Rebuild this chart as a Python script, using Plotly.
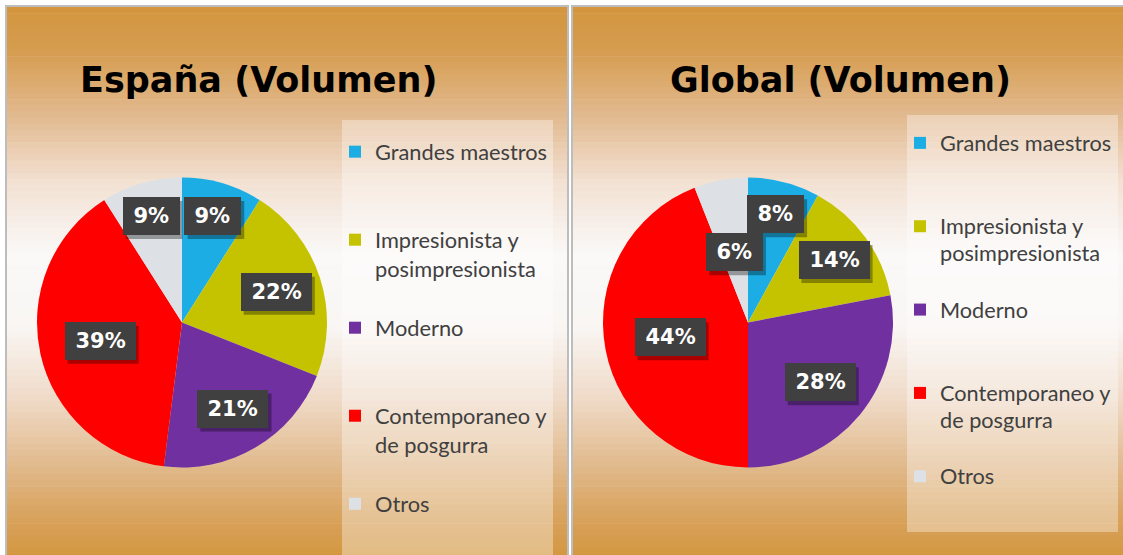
import math
import textwrap
import plotly.graph_objects as go

# ---------------- data ----------------
categories = [
    "Grandes maestros",
    "Impresionista y posimpresionista",
    "Moderno",
    "Contemporaneo y de posgurra",
    "Otros",
]
espana_pct = [9, 22, 21, 39, 9]
global_pct = [8, 14, 28, 44, 6]
titles = ["España (Volumen)", "Global (Volumen)"]

# ---------------- style ----------------
colors = ["#1CADE4", "#C5C300", "#7030A0", "#FF0000", "#DDE1E5"]
W, H = 1123, 555

panels = [
    dict(values=espana_pct, title=titles[0], x0=7, x1=567, cx=182, cy=322.5, R=145,
         title_x=258, legend="legend", label_size=21.8, box=(342, 120, 553, 560)),
    dict(values=global_pct, title=titles[1], x0=573, x1=1123, cx=748, cy=322.5, R=145,
         title_x=840, legend="legend2", label_size=21.7, box=(907, 115, 1118, 532)),
]

grad_stops = [
    (0.00, (211, 149, 62)),
    (0.08, (214, 157, 80)),
    (0.20, (226, 186, 145)),
    (0.32, (243, 226, 212)),
    (0.45, (250, 249, 248)),
    (0.58, (249, 246, 243)),
    (0.70, (240, 220, 203)),
    (0.82, (226, 188, 145)),
    (0.92, (216, 163, 93)),
    (1.00, (211, 150, 63)),
]


def grad_color(t):
    for (t0, c0), (t1, c1) in zip(grad_stops[:-1], grad_stops[1:]):
        if t0 <= t <= t1:
            f = (t - t0) / (t1 - t0) if t1 > t0 else 0
            c = [round(a + (b - a) * f) for a, b in zip(c0, c1)]
            return "rgb(%d,%d,%d)" % tuple(c)
    return "rgb(%d,%d,%d)" % grad_stops[-1][1]


def px(x):
    return x / W


def py(y):
    return 1 - y / H


def legend_label(name, size, last):
    lines = textwrap.wrap(name, 16)
    if not last:
        lines += [" "] * (3 - len(lines))
    return "<br>".join('<span style="font-size:%gpx">%s</span>' % (size, l) for l in lines)


def label_boxes(values, cx, cy, R):
    placed = []
    total = float(sum(values))
    cum = 0.0
    for v in values:
        frac = v / total
        mid = (cum + frac / 2) * 2 * math.pi
        cum += frac
        text = "%d%%" % v
        w = 14.6 * (len(text) - 1) + 21 + 21
        h = 38
        r = 0.82 - 0.62 * frac
        while True:
            x = cx + r * R * math.sin(mid)
            y = cy - r * R * math.cos(mid)
            clash = any(abs(x - p[0]) < (w + p[2]) / 2 and abs(y - p[1]) < (h + p[3]) / 2
                        for p in placed)
            if not clash or r < 0.3:
                break
            r -= 0.005
        placed.append((x, y, w, h, text))
    return placed


fig = go.Figure()
shapes = []
annotations = []

N = 90
for p in panels:
    top, bot = 7, 560
    for i in range(N):
        y0 = top + (bot - top) * i / N
        y1 = top + (bot - top) * (i + 1) / N + 0.6
        shapes.append(dict(type="rect", xref="paper", yref="paper", layer="below",
                           x0=px(p["x0"]), x1=px(p["x1"]), y0=py(y1), y1=py(y0),
                           line=dict(width=0), fillcolor=grad_color((i + 0.5) / N)))
    # panel border
    shapes.append(dict(type="rect", xref="paper", yref="paper", layer="below",
                       x0=px(p["x0"] - 1), x1=px(p["x1"] + 1), y0=py(560), y1=py(6),
                       line=dict(width=2, color="#BDBDBD"), fillcolor="rgba(0,0,0,0)"))
    # legend box
    bx0, by0, bx1, by1 = p["box"]
    shapes.append(dict(type="rect", xref="paper", yref="paper", layer="below",
                       x0=px(bx0), x1=px(bx1), y0=py(by1), y1=py(by0),
                       line=dict(width=0), fillcolor="rgba(255,255,255,0.35)"))

    cx, cy, R = p["cx"], p["cy"], p["R"]
    n = len(categories)
    fig.add_trace(go.Pie(
        labels=[legend_label(c, p["label_size"], i == n - 1) for i, c in enumerate(categories)],
        values=p["values"],
        sort=False, direction="clockwise", rotation=0,
        marker=dict(colors=colors, line=dict(width=0)),
        textinfo="none", hoverinfo="label+percent",
        domain=dict(x=[px(cx - R), px(cx + R)], y=[py(cy + R), py(cy - R)]),
        legend=p["legend"], showlegend=True,
    ))

    annotations.append(dict(text="<b>%s</b>" % p["title"], xref="paper", yref="paper",
                            x=px(p["title_x"]), y=py(80), xanchor="center", yanchor="middle",
                            showarrow=False,
                            font=dict(family="DejaVu Sans", size=35, color="#000000")))

    for (x, y, w, h, text) in label_boxes(p["values"], cx, cy, R):
        pad = 6
        # drop shadow of the label box
        shapes.append(dict(type="rect", xref="paper", yref="paper", layer="above",
                           x0=px(x - w / 2 + 3), x1=px(x + w / 2 + 3),
                           y0=py(y + h / 2 + 4), y1=py(y - h / 2 + 4),
                           line=dict(width=0), fillcolor="rgba(0,0,0,0.33)"))
        annotations.append(dict(text="<b>%s</b>" % text, xref="paper", yref="paper",
                                x=px(x), y=py(y), xanchor="center", yanchor="middle",
                                showarrow=False, width=w - 2 * pad, height=h - 2 * pad,
                                borderpad=pad, borderwidth=0, bgcolor="#404040",
                                font=dict(family="DejaVu Sans", size=21, color="#FFFFFF")))

fig.update_layout(
    width=W, height=H,
    margin=dict(l=0, r=0, t=0, b=0, autoexpand=False),
    paper_bgcolor="#FFFFFF",
    plot_bgcolor="#FFFFFF",
    shapes=shapes,
    annotations=annotations,
    legend=dict(x=px(335), y=py(131), xanchor="left", yanchor="top",
                bgcolor="rgba(0,0,0,0)", valign="top",
                font=dict(family="Lato", size=21.8, color="#404040")),
    legend2=dict(x=px(900), y=py(123), xanchor="left", yanchor="top",
                 bgcolor="rgba(0,0,0,0)", valign="top",
                 font=dict(family="Lato", size=20.6, color="#404040")),
)

fig.write_html("out.html")
